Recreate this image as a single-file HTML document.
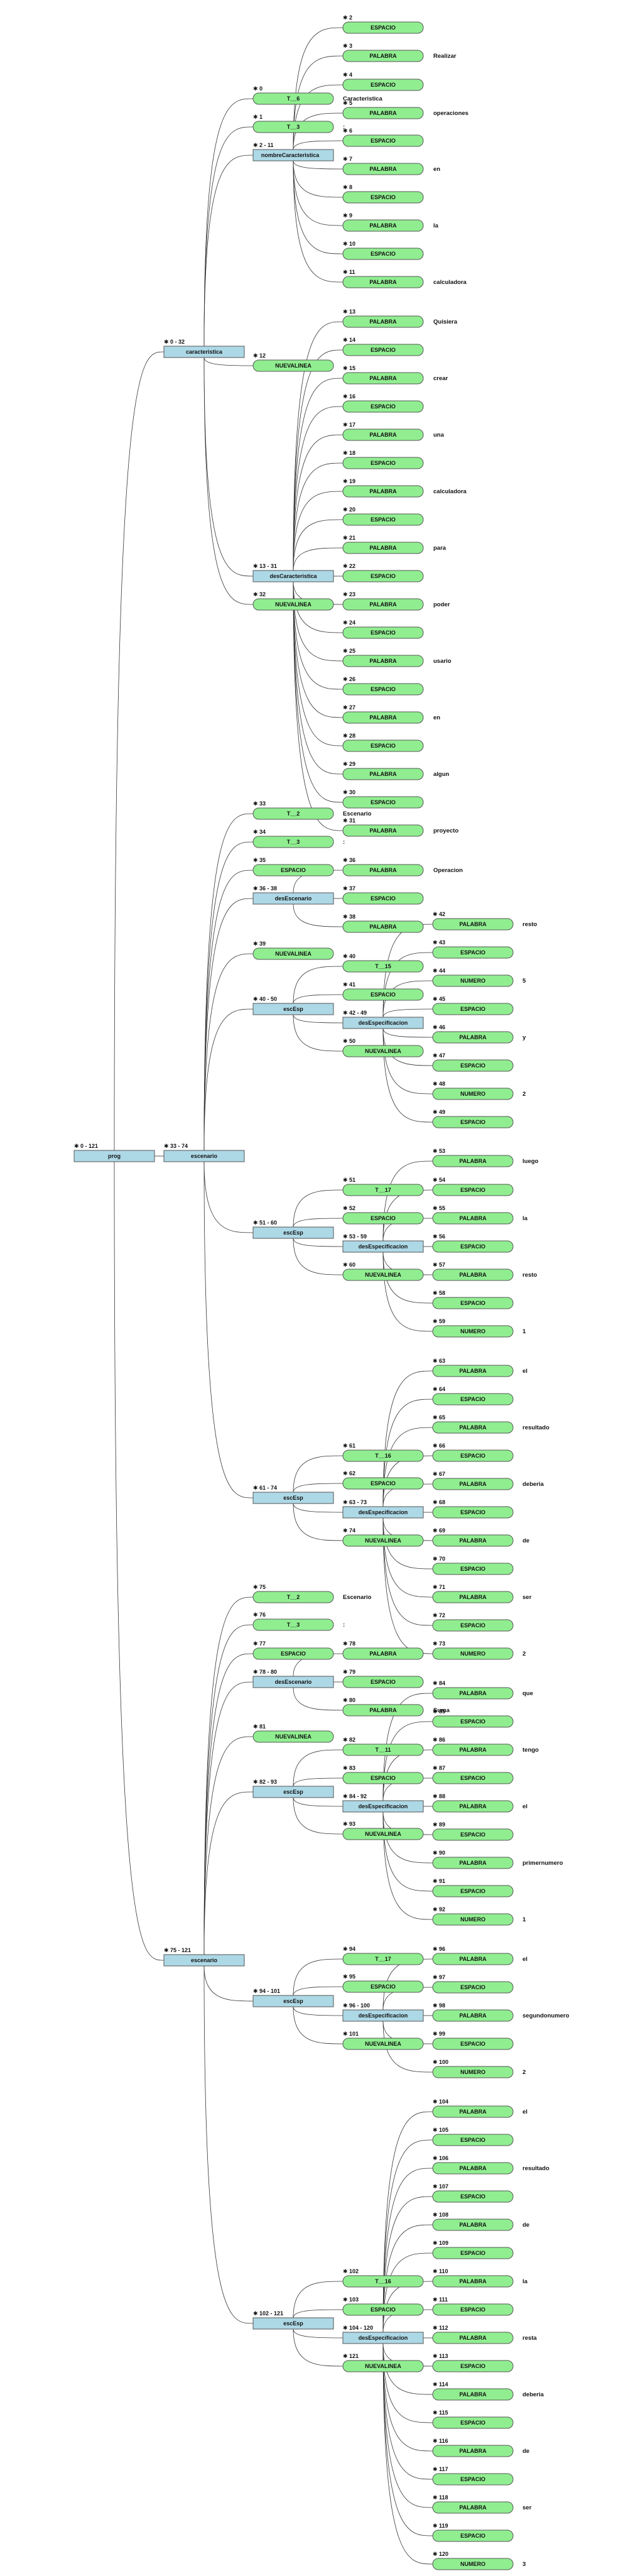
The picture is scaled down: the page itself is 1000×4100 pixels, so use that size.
<!DOCTYPE html>
<html><head><meta charset="utf-8"><style>
html,body{margin:0;padding:0;background:#fff;}
svg{display:block}
.g{fill:#90ee90;stroke:#555;stroke-width:1}
.b{fill:#add8e6;stroke:#555;stroke-width:1}
text{font-family:"Liberation Sans","DejaVu Sans",sans-serif;font-weight:bold;fill:#111}
.t{font-size:9px;text-anchor:middle}
.l{font-size:9px}
.v{font-size:9.5px}
path{fill:none;stroke:#333;stroke-width:0.8}
</style></head><body>
<svg width="1000" height="4100" viewBox="0 0 1000 4100" xmlns="http://www.w3.org/2000/svg">
<defs>
<rect id="G" x="0" y="-9" width="128" height="18" rx="9" ry="9"/>
</defs>
<!-- values -->
<g>
<text class="v" x="546" y="160">Caracteristica</text>
<text class="v" x="546" y="205">:</text>
<text class="v" x="690" y="92">Realizar</text>
<text class="v" x="690" y="183">operaciones</text>
<text class="v" x="690" y="272">en</text>
<text class="v" x="690" y="362">la</text>
<text class="v" x="690" y="452">calculadora</text>
<text class="v" x="690" y="515">Quisiera</text>
<text class="v" x="690" y="605">crear</text>
<text class="v" x="690" y="695">una</text>
<text class="v" x="690" y="785">calculadora</text>
<text class="v" x="690" y="875">para</text>
<text class="v" x="690" y="965">poder</text>
<text class="v" x="690" y="1055">usario</text>
<text class="v" x="690" y="1145">en</text>
<text class="v" x="690" y="1235">algun</text>
<text class="v" x="690" y="1325">proyecto</text>
<text class="v" x="546" y="1298">Escenario</text>
<text class="v" x="546" y="1343">:</text>
<text class="v" x="690" y="1388">Operacion</text>
<text class="v" x="546" y="1541">Cuando</text>
<text class="v" x="832" y="1474">resto</text>
<text class="v" x="832" y="1564">5</text>
<text class="v" x="832" y="1654">y</text>
<text class="v" x="832" y="1744">2</text>
<text class="v" x="832" y="1851">luego</text>
<text class="v" x="832" y="1942">la</text>
<text class="v" x="832" y="2032">resto</text>
<text class="v" x="832" y="2122">1</text>
<text class="v" x="832" y="2185">el</text>
<text class="v" x="832" y="2275">resultado</text>
<text class="v" x="832" y="2365">deberia</text>
<text class="v" x="832" y="2455">de</text>
<text class="v" x="832" y="2545">ser</text>
<text class="v" x="832" y="2635">2</text>
<text class="v" x="546" y="2545">Escenario</text>
<text class="v" x="546" y="2589">:</text>
<text class="v" x="690" y="2725">Suma</text>
<text class="v" x="832" y="2698">que</text>
<text class="v" x="832" y="2788">tengo</text>
<text class="v" x="832" y="2878">el</text>
<text class="v" x="832" y="2968">primernumero</text>
<text class="v" x="832" y="3058">1</text>
<text class="v" x="832" y="3121">el</text>
<text class="v" x="832" y="3211">segundonumero</text>
<text class="v" x="832" y="3301">2</text>
<text class="v" x="832" y="3364">el</text>
<text class="v" x="832" y="3454">resultado</text>
<text class="v" x="832" y="3544">de</text>
<text class="v" x="832" y="3634">la</text>
<text class="v" x="832" y="3724">resta</text>
<text class="v" x="832" y="3814">deberia</text>
<text class="v" x="832" y="3904">de</text>
<text class="v" x="832" y="3994">ser</text>
<text class="v" x="832" y="4084">3</text>
</g>

<!-- edges -->
<g>
<path d="M182 1831C182 560 221 560 261 560"/>
<path d="M246 1840L261 1840"/>
<path d="M182 1849C182 3120 221 3120 261 3120"/>
<path d="M325 551C325 157 364 157 403 157"/>
<path d="M325 551C325 202 364 202 403 202"/>
<path d="M325 551C325 247 364 247 403 247"/>
<path d="M325 569C325 582 364 582 403 582"/>
<path d="M325 569C325 917 364 917 403 917"/>
<path d="M325 569C325 962 364 962 403 962"/>
<path d="M467 238C467 44 506 44 546 44"/>
<path d="M467 238C467 89 506 89 546 89"/>
<path d="M467 238C467 135 506 135 546 135"/>
<path d="M467 238C467 180 506 180 546 180"/>
<path d="M467 238C467 224 506 224 546 224"/>
<path d="M467 256C467 269 506 269 546 269"/>
<path d="M467 256C467 314 506 314 546 314"/>
<path d="M467 256C467 359 506 359 546 359"/>
<path d="M467 256C467 404 506 404 546 404"/>
<path d="M467 256C467 449 506 449 546 449"/>
<path d="M467 908C467 512 506 512 546 512"/>
<path d="M467 908C467 557 506 557 546 557"/>
<path d="M467 908C467 602 506 602 546 602"/>
<path d="M467 908C467 647 506 647 546 647"/>
<path d="M467 908C467 692 506 692 546 692"/>
<path d="M467 908C467 737 506 737 546 737"/>
<path d="M467 908C467 782 506 782 546 782"/>
<path d="M467 908C467 827 506 827 546 827"/>
<path d="M467 908C467 872 506 872 546 872"/>
<path d="M531 917L546 917"/>
<path d="M467 926C467 962 506 962 546 962"/>
<path d="M467 926C467 1007 506 1007 546 1007"/>
<path d="M467 926C467 1052 506 1052 546 1052"/>
<path d="M467 926C467 1097 506 1097 546 1097"/>
<path d="M467 926C467 1142 506 1142 546 1142"/>
<path d="M467 926C467 1187 506 1187 546 1187"/>
<path d="M467 926C467 1232 506 1232 546 1232"/>
<path d="M467 926C467 1277 506 1277 546 1277"/>
<path d="M467 926C467 1322 506 1322 546 1322"/>
<path d="M325 1831C325 1295 364 1295 403 1295"/>
<path d="M325 1831C325 1340 364 1340 403 1340"/>
<path d="M325 1831C325 1385 364 1385 403 1385"/>
<path d="M325 1831C325 1430 364 1430 403 1430"/>
<path d="M325 1831C325 1518 364 1518 403 1518"/>
<path d="M325 1831C325 1606 364 1606 403 1606"/>
<path d="M325 1849C325 1962 364 1962 403 1962"/>
<path d="M325 1849C325 2384 364 2384 403 2384"/>
<path d="M467 1421C467 1385 506 1385 546 1385"/>
<path d="M531 1430L546 1430"/>
<path d="M467 1439C467 1475 506 1475 546 1475"/>
<path d="M467 1597C467 1538 506 1538 546 1538"/>
<path d="M467 1597C467 1583 506 1583 546 1583"/>
<path d="M467 1615C467 1628 506 1628 546 1628"/>
<path d="M467 1615C467 1673 506 1673 546 1673"/>
<path d="M610 1619C610 1471 649 1471 689 1471"/>
<path d="M610 1619C610 1516 649 1516 689 1516"/>
<path d="M610 1619C610 1561 649 1561 689 1561"/>
<path d="M610 1619C610 1606 649 1606 689 1606"/>
<path d="M610 1637C610 1651 649 1651 689 1651"/>
<path d="M610 1637C610 1696 649 1696 689 1696"/>
<path d="M610 1637C610 1741 649 1741 689 1741"/>
<path d="M610 1637C610 1786 649 1786 689 1786"/>
<path d="M467 1953C467 1894 506 1894 546 1894"/>
<path d="M467 1953C467 1939 506 1939 546 1939"/>
<path d="M467 1971C467 1984 506 1984 546 1984"/>
<path d="M467 1971C467 2029 506 2029 546 2029"/>
<path d="M610 1975C610 1848 649 1848 689 1848"/>
<path d="M610 1975C610 1894 649 1894 689 1894"/>
<path d="M610 1975C610 1939 649 1939 689 1939"/>
<path d="M674 1984L689 1984"/>
<path d="M610 1993C610 2029 649 2029 689 2029"/>
<path d="M610 1993C610 2074 649 2074 689 2074"/>
<path d="M610 1993C610 2119 649 2119 689 2119"/>
<path d="M467 2375C467 2317 506 2317 546 2317"/>
<path d="M467 2375C467 2361 506 2361 546 2361"/>
<path d="M467 2393C467 2407 506 2407 546 2407"/>
<path d="M467 2393C467 2452 506 2452 546 2452"/>
<path d="M610 2398C610 2182 649 2182 689 2182"/>
<path d="M610 2398C610 2227 649 2227 689 2227"/>
<path d="M610 2398C610 2272 649 2272 689 2272"/>
<path d="M610 2398C610 2317 649 2317 689 2317"/>
<path d="M610 2398C610 2362 649 2362 689 2362"/>
<path d="M674 2407L689 2407"/>
<path d="M610 2416C610 2452 649 2452 689 2452"/>
<path d="M610 2416C610 2497 649 2497 689 2497"/>
<path d="M610 2416C610 2542 649 2542 689 2542"/>
<path d="M610 2416C610 2587 649 2587 689 2587"/>
<path d="M610 2416C610 2632 649 2632 689 2632"/>
<path d="M325 3111C325 2542 364 2542 403 2542"/>
<path d="M325 3111C325 2586 364 2586 403 2586"/>
<path d="M325 3111C325 2632 364 2632 403 2632"/>
<path d="M325 3111C325 2677 364 2677 403 2677"/>
<path d="M325 3111C325 2764 364 2764 403 2764"/>
<path d="M325 3111C325 2852 364 2852 403 2852"/>
<path d="M325 3129C325 3185 364 3185 403 3185"/>
<path d="M325 3129C325 3698 364 3698 403 3698"/>
<path d="M467 2668C467 2632 506 2632 546 2632"/>
<path d="M531 2677L546 2677"/>
<path d="M467 2686C467 2722 506 2722 546 2722"/>
<path d="M467 2843C467 2785 506 2785 546 2785"/>
<path d="M467 2843C467 2830 506 2830 546 2830"/>
<path d="M467 2861C467 2875 506 2875 546 2875"/>
<path d="M467 2861C467 2919 506 2919 546 2919"/>
<path d="M610 2866C610 2695 649 2695 689 2695"/>
<path d="M610 2866C610 2740 649 2740 689 2740"/>
<path d="M610 2866C610 2785 649 2785 689 2785"/>
<path d="M610 2866C610 2830 649 2830 689 2830"/>
<path d="M674 2875L689 2875"/>
<path d="M610 2884C610 2920 649 2920 689 2920"/>
<path d="M610 2884C610 2965 649 2965 689 2965"/>
<path d="M610 2884C610 3010 649 3010 689 3010"/>
<path d="M610 2884C610 3055 649 3055 689 3055"/>
<path d="M467 3176C467 3118 506 3118 546 3118"/>
<path d="M467 3176C467 3162 506 3162 546 3162"/>
<path d="M467 3194C467 3208 506 3208 546 3208"/>
<path d="M467 3194C467 3253 506 3253 546 3253"/>
<path d="M610 3199C610 3118 649 3118 689 3118"/>
<path d="M610 3199C610 3163 649 3163 689 3163"/>
<path d="M674 3208L689 3208"/>
<path d="M610 3217C610 3253 649 3253 689 3253"/>
<path d="M610 3217C610 3298 649 3298 689 3298"/>
<path d="M467 3689C467 3631 506 3631 546 3631"/>
<path d="M467 3689C467 3676 506 3676 546 3676"/>
<path d="M467 3707C467 3721 506 3721 546 3721"/>
<path d="M467 3707C467 3766 506 3766 546 3766"/>
<path d="M610 3712C610 3361 649 3361 689 3361"/>
<path d="M610 3712C610 3406 649 3406 689 3406"/>
<path d="M610 3712C610 3451 649 3451 689 3451"/>
<path d="M610 3712C610 3496 649 3496 689 3496"/>
<path d="M610 3712C610 3541 649 3541 689 3541"/>
<path d="M610 3712C610 3586 649 3586 689 3586"/>
<path d="M610 3712C610 3631 649 3631 689 3631"/>
<path d="M610 3712C610 3676 649 3676 689 3676"/>
<path d="M674 3721L689 3721"/>
<path d="M610 3730C610 3766 649 3766 689 3766"/>
<path d="M610 3730C610 3811 649 3811 689 3811"/>
<path d="M610 3730C610 3856 649 3856 689 3856"/>
<path d="M610 3730C610 3901 649 3901 689 3901"/>
<path d="M610 3730C610 3946 649 3946 689 3946"/>
<path d="M610 3730C610 3991 649 3991 689 3991"/>
<path d="M610 3730C610 4036 649 4036 689 4036"/>
<path d="M610 3730C610 4081 649 4081 689 4081"/>
</g>

<!-- blue nodes -->
<g>
<rect class="b" x="118" y="1831" width="128" height="18"/><text class="t" x="182" y="1843">prog</text><text class="l" x="118" y="1827">✱ 0 - 121</text>
<rect class="b" x="261" y="551" width="128" height="18"/><text class="t" x="325" y="563">caracteristica</text><text class="l" x="261" y="547">✱ 0 - 32</text>
<rect class="b" x="261" y="1831" width="128" height="18"/><text class="t" x="325" y="1843">escenario</text><text class="l" x="261" y="1827">✱ 33 - 74</text>
<rect class="b" x="261" y="3111" width="128" height="18"/><text class="t" x="325" y="3123">escenario</text><text class="l" x="261" y="3107">✱ 75 - 121</text>
<rect class="b" x="403" y="238" width="128" height="18"/><text class="t" x="462" y="250">nombreCaracteristica</text><text class="l" x="403" y="234">✱ 2 - 11</text>
<rect class="b" x="403" y="908" width="128" height="18"/><text class="t" x="467" y="920">desCaracteristica</text><text class="l" x="403" y="904">✱ 13 - 31</text>
<rect class="b" x="403" y="1421" width="128" height="18"/><text class="t" x="467" y="1433">desEscenario</text><text class="l" x="403" y="1417">✱ 36 - 38</text>
<rect class="b" x="403" y="1597" width="128" height="18"/><text class="t" x="467" y="1609">escEsp</text><text class="l" x="403" y="1593">✱ 40 - 50</text>
<rect class="b" x="403" y="1953" width="128" height="18"/><text class="t" x="467" y="1965">escEsp</text><text class="l" x="403" y="1949">✱ 51 - 60</text>
<rect class="b" x="403" y="2375" width="128" height="18"/><text class="t" x="467" y="2387">escEsp</text><text class="l" x="403" y="2371">✱ 61 - 74</text>
<rect class="b" x="403" y="2668" width="128" height="18"/><text class="t" x="467" y="2680">desEscenario</text><text class="l" x="403" y="2664">✱ 78 - 80</text>
<rect class="b" x="403" y="2843" width="128" height="18"/><text class="t" x="467" y="2855">escEsp</text><text class="l" x="403" y="2839">✱ 82 - 93</text>
<rect class="b" x="403" y="3176" width="128" height="18"/><text class="t" x="467" y="3188">escEsp</text><text class="l" x="403" y="3172">✱ 94 - 101</text>
<rect class="b" x="403" y="3689" width="128" height="18"/><text class="t" x="467" y="3701">escEsp</text><text class="l" x="403" y="3685">✱ 102 - 121</text>
<rect class="b" x="546" y="1619" width="128" height="18"/><text class="t" x="610" y="1631">desEspecificacion</text><text class="l" x="546" y="1615">✱ 42 - 49</text>
<rect class="b" x="546" y="1975" width="128" height="18"/><text class="t" x="610" y="1987">desEspecificacion</text><text class="l" x="546" y="1971">✱ 53 - 59</text>
<rect class="b" x="546" y="2398" width="128" height="18"/><text class="t" x="610" y="2410">desEspecificacion</text><text class="l" x="546" y="2394">✱ 63 - 73</text>
<rect class="b" x="546" y="2866" width="128" height="18"/><text class="t" x="610" y="2878">desEspecificacion</text><text class="l" x="546" y="2862">✱ 84 - 92</text>
<rect class="b" x="546" y="3199" width="128" height="18"/><text class="t" x="610" y="3211">desEspecificacion</text><text class="l" x="546" y="3195">✱ 96 - 100</text>
<rect class="b" x="546" y="3712" width="128" height="18"/><text class="t" x="610" y="3724">desEspecificacion</text><text class="l" x="546" y="3708">✱ 104 - 120</text>
</g>

<!-- green nodes: col3 (x=403) -->
<g>
<g transform="translate(403,157)"><use href="#G" class="g"/><text class="t" x="64" y="3">T__6</text><text class="l" x="0" y="-13">✱ 0</text></g>
<g transform="translate(403,202)"><use href="#G" class="g"/><text class="t" x="64" y="3">T__3</text><text class="l" x="0" y="-13">✱ 1</text></g>
<g transform="translate(403,582)"><use href="#G" class="g"/><text class="t" x="64" y="3">NUEVALINEA</text><text class="l" x="0" y="-13">✱ 12</text></g>
<g transform="translate(403,962)"><use href="#G" class="g"/><text class="t" x="64" y="3">NUEVALINEA</text><text class="l" x="0" y="-13">✱ 32</text></g>
<g transform="translate(403,1295)"><use href="#G" class="g"/><text class="t" x="64" y="3">T__2</text><text class="l" x="0" y="-13">✱ 33</text></g>
<g transform="translate(403,1340)"><use href="#G" class="g"/><text class="t" x="64" y="3">T__3</text><text class="l" x="0" y="-13">✱ 34</text></g>
<g transform="translate(403,1385)"><use href="#G" class="g"/><text class="t" x="64" y="3">ESPACIO</text><text class="l" x="0" y="-13">✱ 35</text></g>
<g transform="translate(403,1518)"><use href="#G" class="g"/><text class="t" x="64" y="3">NUEVALINEA</text><text class="l" x="0" y="-13">✱ 39</text></g>
<g transform="translate(403,2542)"><use href="#G" class="g"/><text class="t" x="64" y="3">T__2</text><text class="l" x="0" y="-13">✱ 75</text></g>
<g transform="translate(403,2586)"><use href="#G" class="g"/><text class="t" x="64" y="3">T__3</text><text class="l" x="0" y="-13">✱ 76</text></g>
<g transform="translate(403,2632)"><use href="#G" class="g"/><text class="t" x="64" y="3">ESPACIO</text><text class="l" x="0" y="-13">✱ 77</text></g>
<g transform="translate(403,2764)"><use href="#G" class="g"/><text class="t" x="64" y="3">NUEVALINEA</text><text class="l" x="0" y="-13">✱ 81</text></g>
</g>

<!-- col4 (x=546) -->
<g>
<g transform="translate(546,44)"><use href="#G" class="g"/><text class="t" x="64" y="3">ESPACIO</text><text class="l" x="0" y="-13">✱ 2</text></g>
<g transform="translate(546,89)"><use href="#G" class="g"/><text class="t" x="64" y="3">PALABRA</text><text class="l" x="0" y="-13">✱ 3</text></g>
<g transform="translate(546,135)"><use href="#G" class="g"/><text class="t" x="64" y="3">ESPACIO</text><text class="l" x="0" y="-13">✱ 4</text></g>
<g transform="translate(546,180)"><use href="#G" class="g"/><text class="t" x="64" y="3">PALABRA</text><text class="l" x="0" y="-13">✱ 5</text></g>
<g transform="translate(546,224)"><use href="#G" class="g"/><text class="t" x="64" y="3">ESPACIO</text><text class="l" x="0" y="-13">✱ 6</text></g>
<g transform="translate(546,269)"><use href="#G" class="g"/><text class="t" x="64" y="3">PALABRA</text><text class="l" x="0" y="-13">✱ 7</text></g>
<g transform="translate(546,314)"><use href="#G" class="g"/><text class="t" x="64" y="3">ESPACIO</text><text class="l" x="0" y="-13">✱ 8</text></g>
<g transform="translate(546,359)"><use href="#G" class="g"/><text class="t" x="64" y="3">PALABRA</text><text class="l" x="0" y="-13">✱ 9</text></g>
<g transform="translate(546,404)"><use href="#G" class="g"/><text class="t" x="64" y="3">ESPACIO</text><text class="l" x="0" y="-13">✱ 10</text></g>
<g transform="translate(546,449)"><use href="#G" class="g"/><text class="t" x="64" y="3">PALABRA</text><text class="l" x="0" y="-13">✱ 11</text></g>
<g transform="translate(546,512)"><use href="#G" class="g"/><text class="t" x="64" y="3">PALABRA</text><text class="l" x="0" y="-13">✱ 13</text></g>
<g transform="translate(546,557)"><use href="#G" class="g"/><text class="t" x="64" y="3">ESPACIO</text><text class="l" x="0" y="-13">✱ 14</text></g>
<g transform="translate(546,602)"><use href="#G" class="g"/><text class="t" x="64" y="3">PALABRA</text><text class="l" x="0" y="-13">✱ 15</text></g>
<g transform="translate(546,647)"><use href="#G" class="g"/><text class="t" x="64" y="3">ESPACIO</text><text class="l" x="0" y="-13">✱ 16</text></g>
<g transform="translate(546,692)"><use href="#G" class="g"/><text class="t" x="64" y="3">PALABRA</text><text class="l" x="0" y="-13">✱ 17</text></g>
<g transform="translate(546,737)"><use href="#G" class="g"/><text class="t" x="64" y="3">ESPACIO</text><text class="l" x="0" y="-13">✱ 18</text></g>
<g transform="translate(546,782)"><use href="#G" class="g"/><text class="t" x="64" y="3">PALABRA</text><text class="l" x="0" y="-13">✱ 19</text></g>
<g transform="translate(546,827)"><use href="#G" class="g"/><text class="t" x="64" y="3">ESPACIO</text><text class="l" x="0" y="-13">✱ 20</text></g>
<g transform="translate(546,872)"><use href="#G" class="g"/><text class="t" x="64" y="3">PALABRA</text><text class="l" x="0" y="-13">✱ 21</text></g>
<g transform="translate(546,917)"><use href="#G" class="g"/><text class="t" x="64" y="3">ESPACIO</text><text class="l" x="0" y="-13">✱ 22</text></g>
<g transform="translate(546,962)"><use href="#G" class="g"/><text class="t" x="64" y="3">PALABRA</text><text class="l" x="0" y="-13">✱ 23</text></g>
<g transform="translate(546,1007)"><use href="#G" class="g"/><text class="t" x="64" y="3">ESPACIO</text><text class="l" x="0" y="-13">✱ 24</text></g>
<g transform="translate(546,1052)"><use href="#G" class="g"/><text class="t" x="64" y="3">PALABRA</text><text class="l" x="0" y="-13">✱ 25</text></g>
<g transform="translate(546,1097)"><use href="#G" class="g"/><text class="t" x="64" y="3">ESPACIO</text><text class="l" x="0" y="-13">✱ 26</text></g>
<g transform="translate(546,1142)"><use href="#G" class="g"/><text class="t" x="64" y="3">PALABRA</text><text class="l" x="0" y="-13">✱ 27</text></g>
<g transform="translate(546,1187)"><use href="#G" class="g"/><text class="t" x="64" y="3">ESPACIO</text><text class="l" x="0" y="-13">✱ 28</text></g>
<g transform="translate(546,1232)"><use href="#G" class="g"/><text class="t" x="64" y="3">PALABRA</text><text class="l" x="0" y="-13">✱ 29</text></g>
<g transform="translate(546,1277)"><use href="#G" class="g"/><text class="t" x="64" y="3">ESPACIO</text><text class="l" x="0" y="-13">✱ 30</text></g>
<g transform="translate(546,1322)"><use href="#G" class="g"/><text class="t" x="64" y="3">PALABRA</text><text class="l" x="0" y="-13">✱ 31</text></g>
<g transform="translate(546,1385)"><use href="#G" class="g"/><text class="t" x="64" y="3">PALABRA</text><text class="l" x="0" y="-13">✱ 36</text></g>
<g transform="translate(546,1430)"><use href="#G" class="g"/><text class="t" x="64" y="3">ESPACIO</text><text class="l" x="0" y="-13">✱ 37</text></g>
<g transform="translate(546,1475)"><use href="#G" class="g"/><text class="t" x="64" y="3">PALABRA</text><text class="l" x="0" y="-13">✱ 38</text></g>
<g transform="translate(546,1538)"><use href="#G" class="g"/><text class="t" x="64" y="3">T__15</text><text class="l" x="0" y="-13">✱ 40</text></g>
<g transform="translate(546,1583)"><use href="#G" class="g"/><text class="t" x="64" y="3">ESPACIO</text><text class="l" x="0" y="-13">✱ 41</text></g>
<g transform="translate(546,1673)"><use href="#G" class="g"/><text class="t" x="64" y="3">NUEVALINEA</text><text class="l" x="0" y="-13">✱ 50</text></g>
<g transform="translate(546,1894)"><use href="#G" class="g"/><text class="t" x="64" y="3">T__17</text><text class="l" x="0" y="-13">✱ 51</text></g>
<g transform="translate(546,1939)"><use href="#G" class="g"/><text class="t" x="64" y="3">ESPACIO</text><text class="l" x="0" y="-13">✱ 52</text></g>
<g transform="translate(546,2029)"><use href="#G" class="g"/><text class="t" x="64" y="3">NUEVALINEA</text><text class="l" x="0" y="-13">✱ 60</text></g>
<g transform="translate(546,2317)"><use href="#G" class="g"/><text class="t" x="64" y="3">T__16</text><text class="l" x="0" y="-13">✱ 61</text></g>
<g transform="translate(546,2361)"><use href="#G" class="g"/><text class="t" x="64" y="3">ESPACIO</text><text class="l" x="0" y="-13">✱ 62</text></g>
<g transform="translate(546,2452)"><use href="#G" class="g"/><text class="t" x="64" y="3">NUEVALINEA</text><text class="l" x="0" y="-13">✱ 74</text></g>
<g transform="translate(546,2632)"><use href="#G" class="g"/><text class="t" x="64" y="3">PALABRA</text><text class="l" x="0" y="-13">✱ 78</text></g>
<g transform="translate(546,2677)"><use href="#G" class="g"/><text class="t" x="64" y="3">ESPACIO</text><text class="l" x="0" y="-13">✱ 79</text></g>
<g transform="translate(546,2722)"><use href="#G" class="g"/><text class="t" x="64" y="3">PALABRA</text><text class="l" x="0" y="-13">✱ 80</text></g>
<g transform="translate(546,2785)"><use href="#G" class="g"/><text class="t" x="64" y="3">T__11</text><text class="l" x="0" y="-13">✱ 82</text></g>
<g transform="translate(546,2830)"><use href="#G" class="g"/><text class="t" x="64" y="3">ESPACIO</text><text class="l" x="0" y="-13">✱ 83</text></g>
<g transform="translate(546,2919)"><use href="#G" class="g"/><text class="t" x="64" y="3">NUEVALINEA</text><text class="l" x="0" y="-13">✱ 93</text></g>
<g transform="translate(546,3118)"><use href="#G" class="g"/><text class="t" x="64" y="3">T__17</text><text class="l" x="0" y="-13">✱ 94</text></g>
<g transform="translate(546,3162)"><use href="#G" class="g"/><text class="t" x="64" y="3">ESPACIO</text><text class="l" x="0" y="-13">✱ 95</text></g>
<g transform="translate(546,3253)"><use href="#G" class="g"/><text class="t" x="64" y="3">NUEVALINEA</text><text class="l" x="0" y="-13">✱ 101</text></g>
<g transform="translate(546,3631)"><use href="#G" class="g"/><text class="t" x="64" y="3">T__16</text><text class="l" x="0" y="-13">✱ 102</text></g>
<g transform="translate(546,3676)"><use href="#G" class="g"/><text class="t" x="64" y="3">ESPACIO</text><text class="l" x="0" y="-13">✱ 103</text></g>
<g transform="translate(546,3766)"><use href="#G" class="g"/><text class="t" x="64" y="3">NUEVALINEA</text><text class="l" x="0" y="-13">✱ 121</text></g>
</g>

<!-- col5 (x=689) -->
<g>
<g transform="translate(689,1471)"><use href="#G" class="g"/><text class="t" x="64" y="3">PALABRA</text><text class="l" x="0" y="-13">✱ 42</text></g>
<g transform="translate(689,1516)"><use href="#G" class="g"/><text class="t" x="64" y="3">ESPACIO</text><text class="l" x="0" y="-13">✱ 43</text></g>
<g transform="translate(689,1561)"><use href="#G" class="g"/><text class="t" x="64" y="3">NUMERO</text><text class="l" x="0" y="-13">✱ 44</text></g>
<g transform="translate(689,1606)"><use href="#G" class="g"/><text class="t" x="64" y="3">ESPACIO</text><text class="l" x="0" y="-13">✱ 45</text></g>
<g transform="translate(689,1651)"><use href="#G" class="g"/><text class="t" x="64" y="3">PALABRA</text><text class="l" x="0" y="-13">✱ 46</text></g>
<g transform="translate(689,1696)"><use href="#G" class="g"/><text class="t" x="64" y="3">ESPACIO</text><text class="l" x="0" y="-13">✱ 47</text></g>
<g transform="translate(689,1741)"><use href="#G" class="g"/><text class="t" x="64" y="3">NUMERO</text><text class="l" x="0" y="-13">✱ 48</text></g>
<g transform="translate(689,1786)"><use href="#G" class="g"/><text class="t" x="64" y="3">ESPACIO</text><text class="l" x="0" y="-13">✱ 49</text></g>
<g transform="translate(689,1848)"><use href="#G" class="g"/><text class="t" x="64" y="3">PALABRA</text><text class="l" x="0" y="-13">✱ 53</text></g>
<g transform="translate(689,1894)"><use href="#G" class="g"/><text class="t" x="64" y="3">ESPACIO</text><text class="l" x="0" y="-13">✱ 54</text></g>
<g transform="translate(689,1939)"><use href="#G" class="g"/><text class="t" x="64" y="3">PALABRA</text><text class="l" x="0" y="-13">✱ 55</text></g>
<g transform="translate(689,1984)"><use href="#G" class="g"/><text class="t" x="64" y="3">ESPACIO</text><text class="l" x="0" y="-13">✱ 56</text></g>
<g transform="translate(689,2029)"><use href="#G" class="g"/><text class="t" x="64" y="3">PALABRA</text><text class="l" x="0" y="-13">✱ 57</text></g>
<g transform="translate(689,2074)"><use href="#G" class="g"/><text class="t" x="64" y="3">ESPACIO</text><text class="l" x="0" y="-13">✱ 58</text></g>
<g transform="translate(689,2119)"><use href="#G" class="g"/><text class="t" x="64" y="3">NUMERO</text><text class="l" x="0" y="-13">✱ 59</text></g>
<g transform="translate(689,2182)"><use href="#G" class="g"/><text class="t" x="64" y="3">PALABRA</text><text class="l" x="0" y="-13">✱ 63</text></g>
<g transform="translate(689,2227)"><use href="#G" class="g"/><text class="t" x="64" y="3">ESPACIO</text><text class="l" x="0" y="-13">✱ 64</text></g>
<g transform="translate(689,2272)"><use href="#G" class="g"/><text class="t" x="64" y="3">PALABRA</text><text class="l" x="0" y="-13">✱ 65</text></g>
<g transform="translate(689,2317)"><use href="#G" class="g"/><text class="t" x="64" y="3">ESPACIO</text><text class="l" x="0" y="-13">✱ 66</text></g>
<g transform="translate(689,2362)"><use href="#G" class="g"/><text class="t" x="64" y="3">PALABRA</text><text class="l" x="0" y="-13">✱ 67</text></g>
<g transform="translate(689,2407)"><use href="#G" class="g"/><text class="t" x="64" y="3">ESPACIO</text><text class="l" x="0" y="-13">✱ 68</text></g>
<g transform="translate(689,2452)"><use href="#G" class="g"/><text class="t" x="64" y="3">PALABRA</text><text class="l" x="0" y="-13">✱ 69</text></g>
<g transform="translate(689,2497)"><use href="#G" class="g"/><text class="t" x="64" y="3">ESPACIO</text><text class="l" x="0" y="-13">✱ 70</text></g>
<g transform="translate(689,2542)"><use href="#G" class="g"/><text class="t" x="64" y="3">PALABRA</text><text class="l" x="0" y="-13">✱ 71</text></g>
<g transform="translate(689,2587)"><use href="#G" class="g"/><text class="t" x="64" y="3">ESPACIO</text><text class="l" x="0" y="-13">✱ 72</text></g>
<g transform="translate(689,2632)"><use href="#G" class="g"/><text class="t" x="64" y="3">NUMERO</text><text class="l" x="0" y="-13">✱ 73</text></g>
<g transform="translate(689,2695)"><use href="#G" class="g"/><text class="t" x="64" y="3">PALABRA</text><text class="l" x="0" y="-13">✱ 84</text></g>
<g transform="translate(689,2740)"><use href="#G" class="g"/><text class="t" x="64" y="3">ESPACIO</text><text class="l" x="0" y="-13">✱ 85</text></g>
<g transform="translate(689,2785)"><use href="#G" class="g"/><text class="t" x="64" y="3">PALABRA</text><text class="l" x="0" y="-13">✱ 86</text></g>
<g transform="translate(689,2830)"><use href="#G" class="g"/><text class="t" x="64" y="3">ESPACIO</text><text class="l" x="0" y="-13">✱ 87</text></g>
<g transform="translate(689,2875)"><use href="#G" class="g"/><text class="t" x="64" y="3">PALABRA</text><text class="l" x="0" y="-13">✱ 88</text></g>
<g transform="translate(689,2920)"><use href="#G" class="g"/><text class="t" x="64" y="3">ESPACIO</text><text class="l" x="0" y="-13">✱ 89</text></g>
<g transform="translate(689,2965)"><use href="#G" class="g"/><text class="t" x="64" y="3">PALABRA</text><text class="l" x="0" y="-13">✱ 90</text></g>
<g transform="translate(689,3010)"><use href="#G" class="g"/><text class="t" x="64" y="3">ESPACIO</text><text class="l" x="0" y="-13">✱ 91</text></g>
<g transform="translate(689,3055)"><use href="#G" class="g"/><text class="t" x="64" y="3">NUMERO</text><text class="l" x="0" y="-13">✱ 92</text></g>
<g transform="translate(689,3118)"><use href="#G" class="g"/><text class="t" x="64" y="3">PALABRA</text><text class="l" x="0" y="-13">✱ 96</text></g>
<g transform="translate(689,3163)"><use href="#G" class="g"/><text class="t" x="64" y="3">ESPACIO</text><text class="l" x="0" y="-13">✱ 97</text></g>
<g transform="translate(689,3208)"><use href="#G" class="g"/><text class="t" x="64" y="3">PALABRA</text><text class="l" x="0" y="-13">✱ 98</text></g>
<g transform="translate(689,3253)"><use href="#G" class="g"/><text class="t" x="64" y="3">ESPACIO</text><text class="l" x="0" y="-13">✱ 99</text></g>
<g transform="translate(689,3298)"><use href="#G" class="g"/><text class="t" x="64" y="3">NUMERO</text><text class="l" x="0" y="-13">✱ 100</text></g>
<g transform="translate(689,3361)"><use href="#G" class="g"/><text class="t" x="64" y="3">PALABRA</text><text class="l" x="0" y="-13">✱ 104</text></g>
<g transform="translate(689,3406)"><use href="#G" class="g"/><text class="t" x="64" y="3">ESPACIO</text><text class="l" x="0" y="-13">✱ 105</text></g>
<g transform="translate(689,3451)"><use href="#G" class="g"/><text class="t" x="64" y="3">PALABRA</text><text class="l" x="0" y="-13">✱ 106</text></g>
<g transform="translate(689,3496)"><use href="#G" class="g"/><text class="t" x="64" y="3">ESPACIO</text><text class="l" x="0" y="-13">✱ 107</text></g>
<g transform="translate(689,3541)"><use href="#G" class="g"/><text class="t" x="64" y="3">PALABRA</text><text class="l" x="0" y="-13">✱ 108</text></g>
<g transform="translate(689,3586)"><use href="#G" class="g"/><text class="t" x="64" y="3">ESPACIO</text><text class="l" x="0" y="-13">✱ 109</text></g>
<g transform="translate(689,3631)"><use href="#G" class="g"/><text class="t" x="64" y="3">PALABRA</text><text class="l" x="0" y="-13">✱ 110</text></g>
<g transform="translate(689,3676)"><use href="#G" class="g"/><text class="t" x="64" y="3">ESPACIO</text><text class="l" x="0" y="-13">✱ 111</text></g>
<g transform="translate(689,3721)"><use href="#G" class="g"/><text class="t" x="64" y="3">PALABRA</text><text class="l" x="0" y="-13">✱ 112</text></g>
<g transform="translate(689,3766)"><use href="#G" class="g"/><text class="t" x="64" y="3">ESPACIO</text><text class="l" x="0" y="-13">✱ 113</text></g>
<g transform="translate(689,3811)"><use href="#G" class="g"/><text class="t" x="64" y="3">PALABRA</text><text class="l" x="0" y="-13">✱ 114</text></g>
<g transform="translate(689,3856)"><use href="#G" class="g"/><text class="t" x="64" y="3">ESPACIO</text><text class="l" x="0" y="-13">✱ 115</text></g>
<g transform="translate(689,3901)"><use href="#G" class="g"/><text class="t" x="64" y="3">PALABRA</text><text class="l" x="0" y="-13">✱ 116</text></g>
<g transform="translate(689,3946)"><use href="#G" class="g"/><text class="t" x="64" y="3">ESPACIO</text><text class="l" x="0" y="-13">✱ 117</text></g>
<g transform="translate(689,3991)"><use href="#G" class="g"/><text class="t" x="64" y="3">PALABRA</text><text class="l" x="0" y="-13">✱ 118</text></g>
<g transform="translate(689,4036)"><use href="#G" class="g"/><text class="t" x="64" y="3">ESPACIO</text><text class="l" x="0" y="-13">✱ 119</text></g>
<g transform="translate(689,4081)"><use href="#G" class="g"/><text class="t" x="64" y="3">NUMERO</text><text class="l" x="0" y="-13">✱ 120</text></g>
</g>
</svg>
</body></html>
